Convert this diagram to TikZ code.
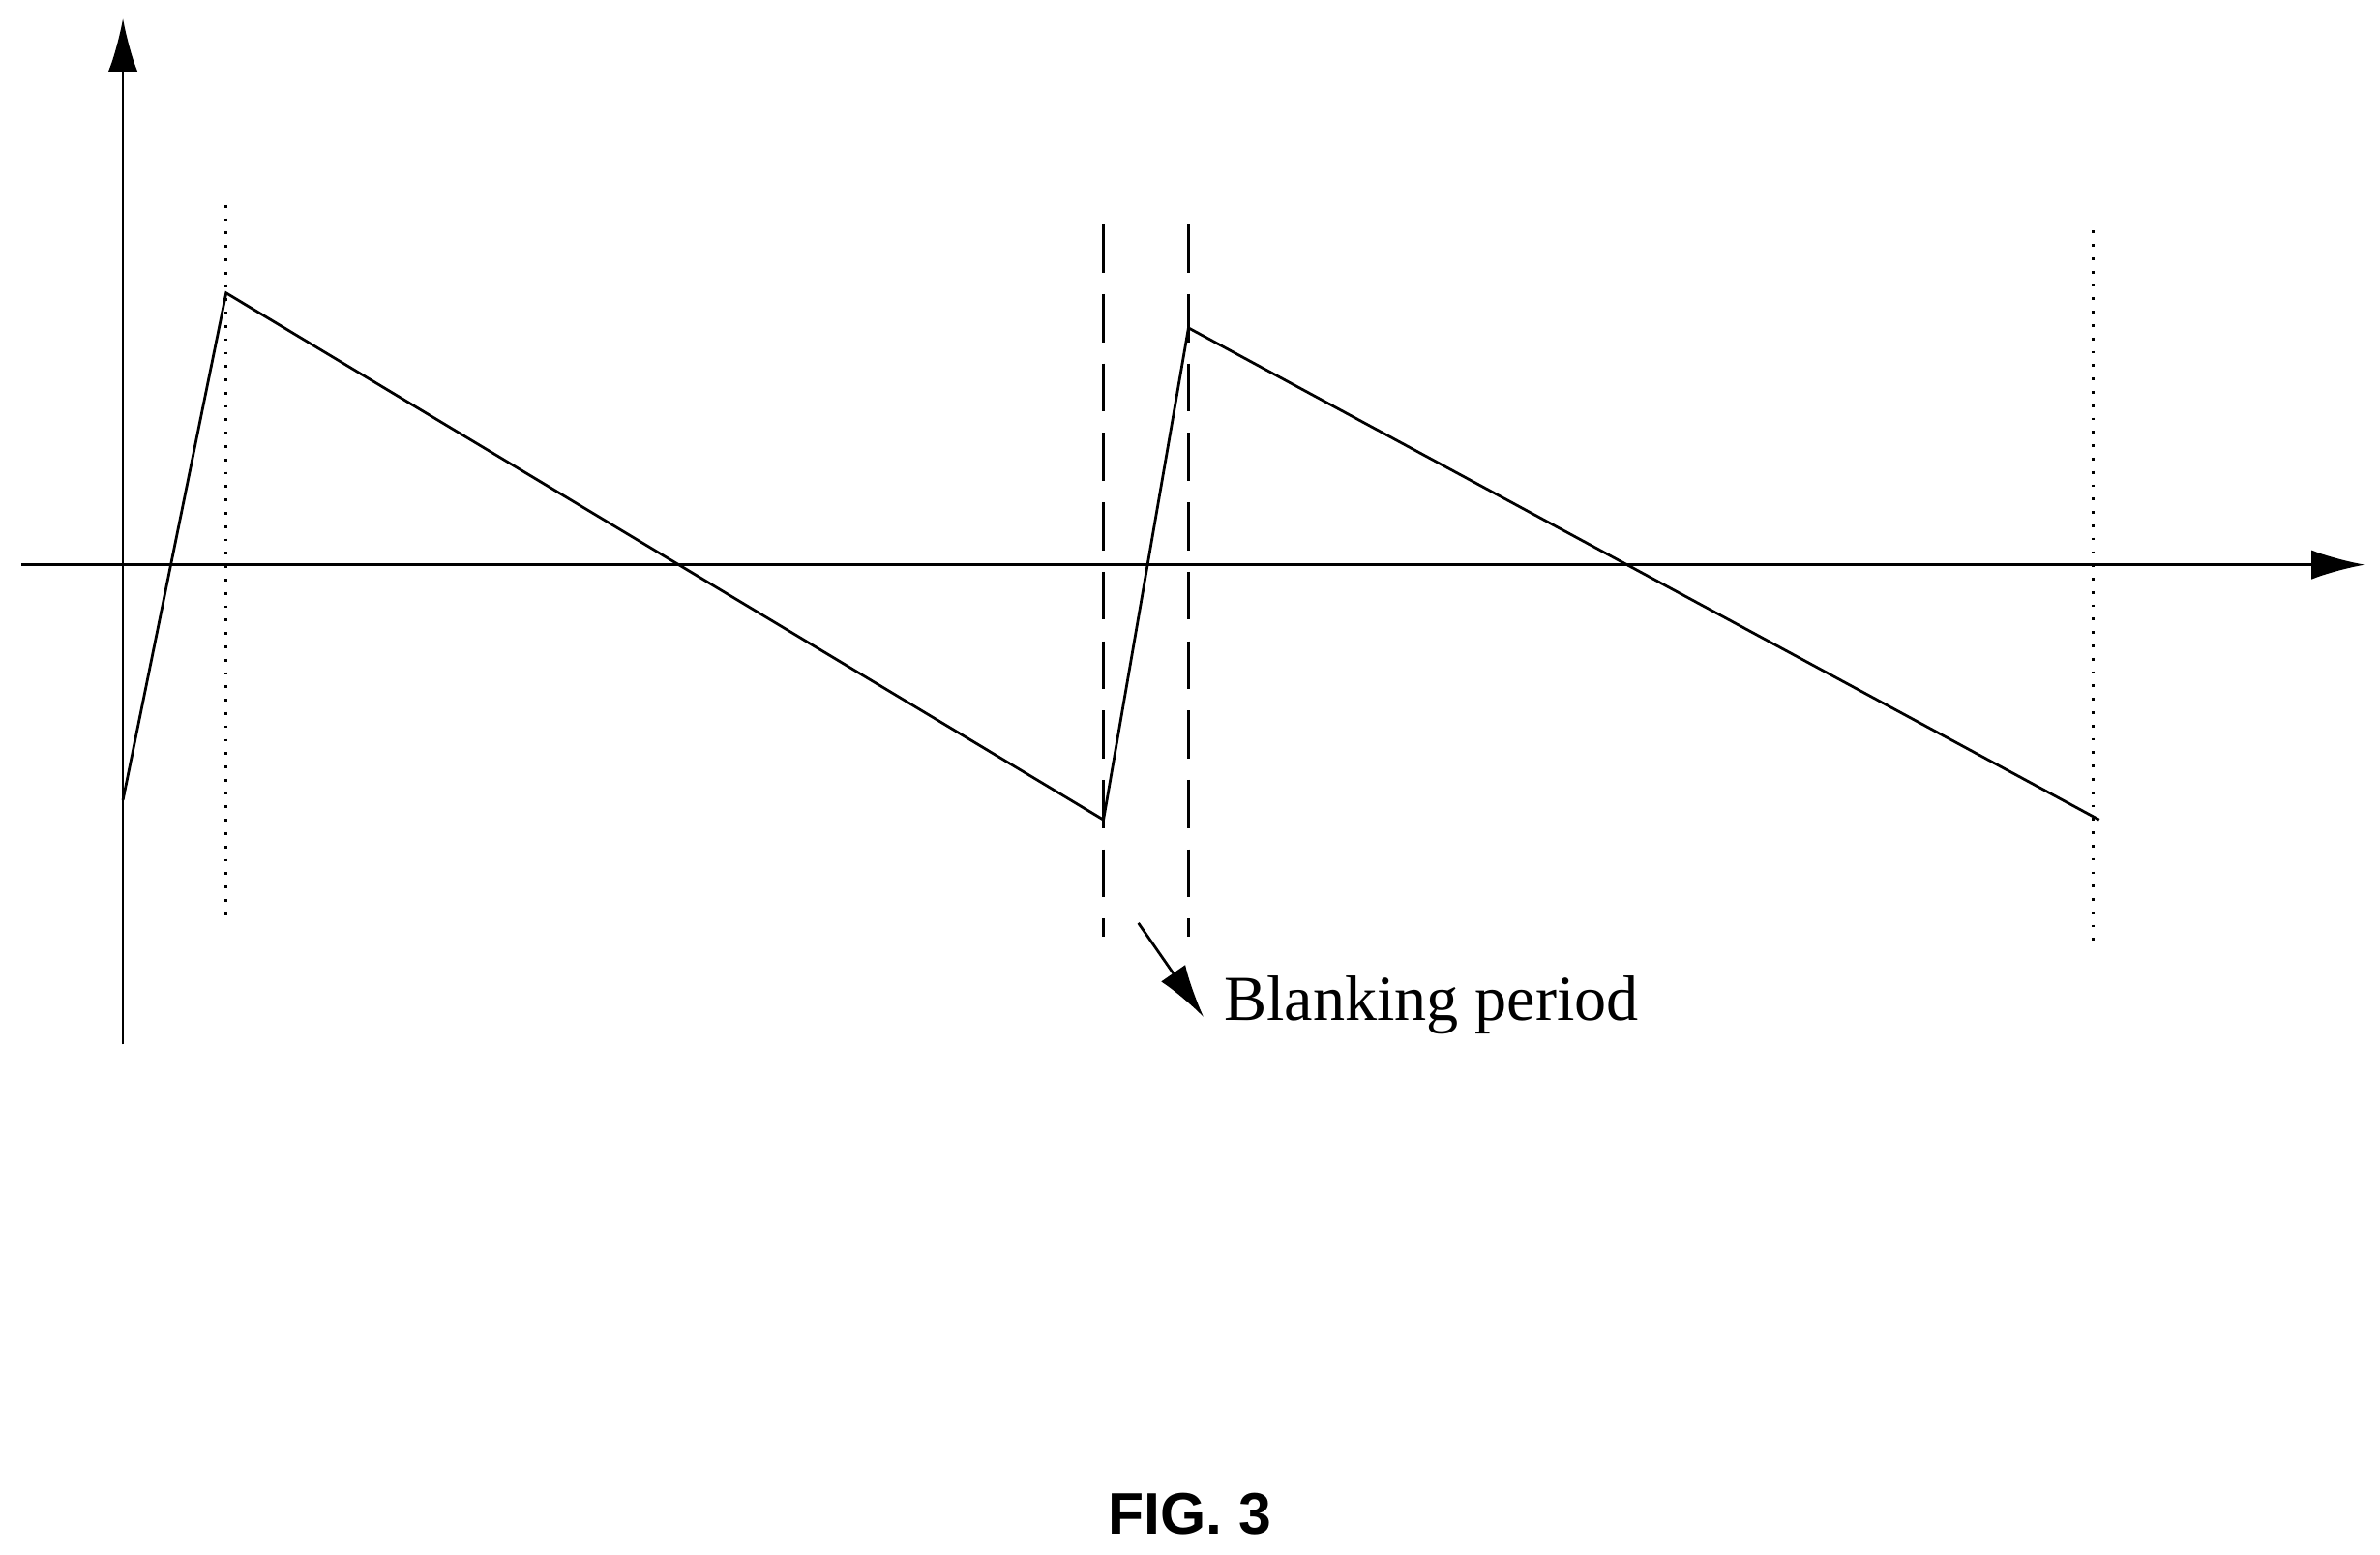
\documentclass[tikz,border=0pt]{standalone}
\usepackage{fontspec}
\setmainfont{Liberation Serif}
\newfontfamily\figfont{Liberation Sans}
\usetikzlibrary{arrows.meta}
\begin{document}
\begin{tikzpicture}[x=0.01cm,y=-0.01cm,line width=0.5pt]
\tikzstyle{axis}=[-{Latex[length=10pt,width=5.5pt]}]
\tikzstyle{period}=[dotted,line width=0.5pt]
\tikzstyle{blank}=[dash pattern=on 9pt off 4pt,line width=0.5pt]
\useasboundingbox (0,0) rectangle (1568,1024);
\coordinate (o1) at (81,688);
\coordinate (o2) at (81,12);
\coordinate (x1) at (14,372);
\coordinate (x2) at (1558,372);
\draw[axis] (o1)--(o2);
\draw[axis] (x1)--(x2);
\coordinate (s0) at (81,527);
\coordinate (s1) at (149,193);
\coordinate (s2) at (727,540);
\coordinate (s3) at (783,216);
\coordinate (s4) at (1383,540);
\draw (s0)--(s1)--(s2)--(s3)--(s4);
\draw[period] (149,135)--(149,603);
\draw[period] (1379,152)--(1379,620);
\draw[blank] (727,148)--(727,617);
\draw[blank] (783,148)--(783,617);
\node[font=\fontsize{12pt}{14pt}\selectfont] (bp) at (943,662) {Blanking period};
\coordinate (a0) at (750,608);
\draw[axis] (a0)--(793,670);
\node[font=\figfont\bfseries\fontsize{11pt}{13pt}\selectfont] (fig) at (784,997) {FIG. 3};
\end{tikzpicture}
\end{document}
